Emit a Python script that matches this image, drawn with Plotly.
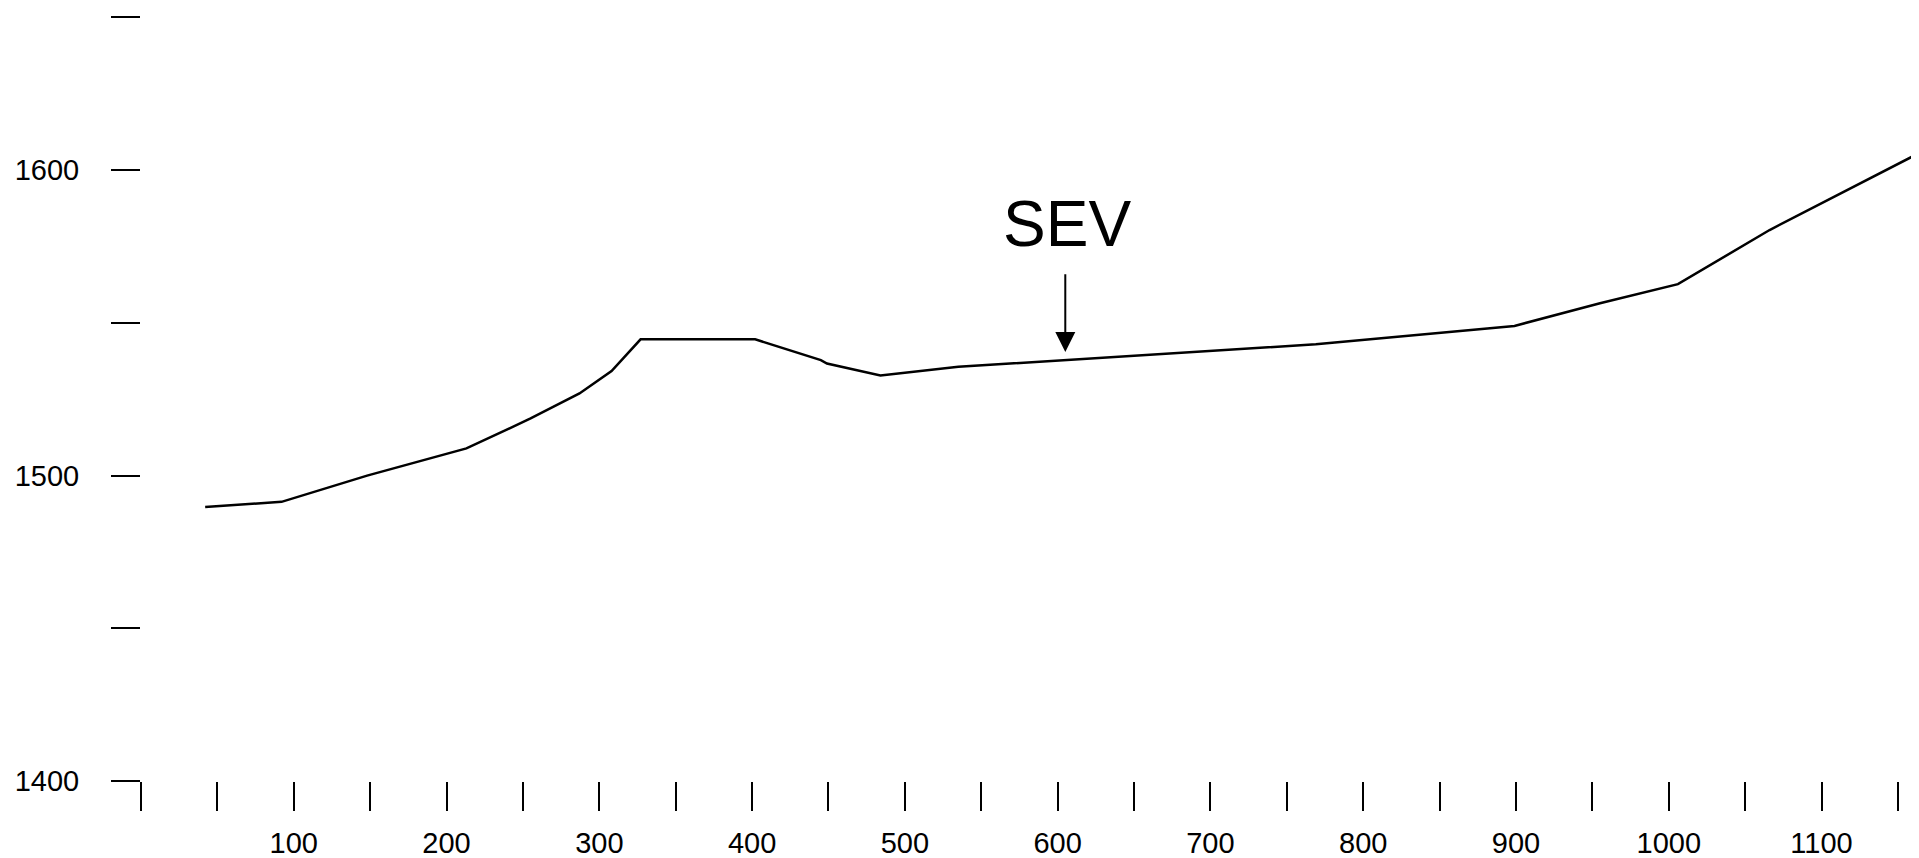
import plotly.graph_objects as go

# Profile data (distance vs elevation)
distance = [42, 92, 148, 213, 255, 287, 308, 327, 402, 445, 449, 484, 535, 605, 672, 769, 899, 955, 1006, 1066, 1160]
elevation = [1489.7, 1491.4, 1500.0, 1508.9, 1518.7, 1526.9, 1534.2, 1544.6, 1544.6, 1537.8, 1536.7, 1532.8,
             1535.6, 1537.8, 1540.0, 1543.0, 1549.0, 1556.4, 1562.7, 1580.4, 1604.6]

x_tickvals = [0, 100, 200, 300, 400, 500, 600, 700, 800, 900, 1000, 1100]
x_ticktext = ["", "100", "200", "300", "400", "500", "600", "700", "800", "900", "1000", "1100"]
y_tickvals = [1400, 1500, 1600]
y_ticktext = ["1400", "1500", "1600"]

sev_label = "SEV"
sev_x = 605
sev_tip_y = 1540.5
sev_tail_y = 1566.4
sev_text_y = 1582.3

fig = go.Figure()
fig.add_trace(go.Scatter(
    x=distance, y=elevation, mode="lines",
    line=dict(color="black", width=2.5),
    showlegend=False, hoverinfo="skip",
))

fig.add_annotation(
    x=sev_x, y=sev_tip_y, ax=sev_x, ay=sev_tail_y,
    xref="x", yref="y", axref="x", ayref="y",
    text="", showarrow=True, arrowhead=2, arrowsize=2, arrowwidth=2,
    arrowcolor="black",
)
fig.add_annotation(
    x=sev_x + 1, y=sev_text_y, xref="x", yref="y",
    text=sev_label, showarrow=False,
    font=dict(family="Liberation Sans, Arial", size=64, color="black"),
    xanchor="center", yanchor="middle",
)

font_ticks = dict(family="Liberation Sans, Arial", size=29, color="black")

fig.update_xaxes(
    range=[0, 1163.8], showgrid=False, zeroline=False, showline=False,
    tickmode="array", tickvals=x_tickvals, ticktext=x_ticktext,
    ticks="outside", ticklen=29, tickwidth=2, tickcolor="black",
    minor=dict(ticks="outside", ticklen=29, tickwidth=2, tickcolor="black", dtick=50, tick0=0, showgrid=False),
    tickfont=font_ticks, ticklabelstandoff=7,
)
fig.update_yaxes(
    range=[1400, 1653.1], showgrid=False, zeroline=False, showline=False,
    tickmode="array", tickvals=y_tickvals, ticktext=y_ticktext,
    ticks="outside", ticklen=29, tickwidth=2, tickcolor="black",
    minor=dict(ticks="outside", ticklen=29, tickwidth=2, tickcolor="black", dtick=50, tick0=1400, showgrid=False),
    tickfont=font_ticks, ticklabelstandoff=26,
)

fig.update_layout(
    width=1911, height=850,
    margin=dict(l=132.7, r=0, t=0, b=77.2, pad=0),
    plot_bgcolor="white", paper_bgcolor="white",
    showlegend=False,
)

fig.write_html("out.html")
